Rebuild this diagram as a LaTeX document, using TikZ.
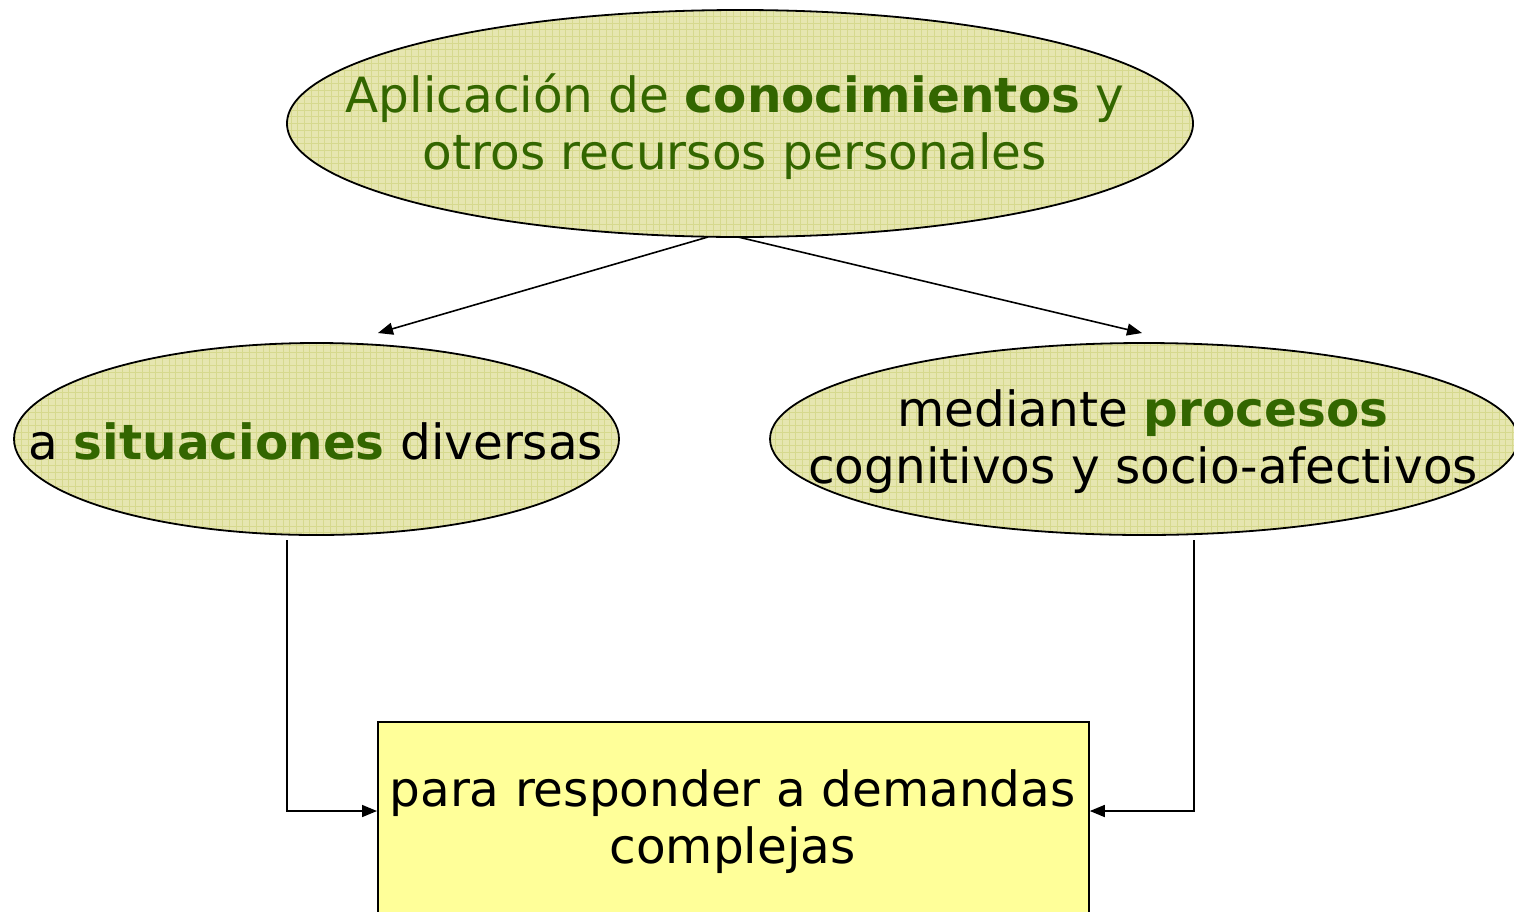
\documentclass[tikz,border=0pt]{standalone}
\usepackage{fontspec}
\setmainfont{DejaVu Sans}
\usetikzlibrary{shapes.geometric,arrows.meta}
\definecolor{txtgreen}{HTML}{336600}
\definecolor{ellfill}{HTML}{E6E6B0}
\definecolor{gridc}{HTML}{D6D98E}
\definecolor{boxfill}{HTML}{FFFF99}
\tikzset{
  ovalbox/.style={ellipse, draw=black, line width=1.8pt, fill=ellfill, inner sep=0pt,
    path picture={\draw[gridc, line width=0.8pt] (path picture bounding box.south west) grid[step=6.7pt] (path picture bounding box.north east);}},
  bigtext/.style={align=center, inner sep=0pt, font=\fontsize{48.5}{57}\selectfont},
  conn/.style={line width=1.6pt, -{Triangle[length=15pt,width=12pt]}},
}
\begin{document}
\begin{tikzpicture}[x=1pt,y=-1pt]
\useasboundingbox (0,0) rectangle (1514,911);
% ellipses
\node[ovalbox, minimum width=906pt, minimum height=227pt] (top) at (740,123.5) {};
\node[ovalbox, minimum width=605pt, minimum height=192pt] (left) at (316.5,439) {};
\node[ovalbox, minimum width=748pt, minimum height=192pt] (right) at (1144,439) {};
% box
\node[draw=black, line width=1.8pt, fill=boxfill, minimum width=711pt, minimum height=260pt, anchor=north west, inner sep=0pt] (box) at (377,721) {};
% texts
\node[bigtext, text=txtgreen] (toptext) at (735,127) {Aplicación de \textbf{conocimientos} y\\otros recursos personales};
\node[bigtext] (lefttext) at (316,441) {a \textcolor{txtgreen}{\textbf{situaciones}} diversas};
\node[bigtext] (righttext) at (1143,442) {mediante \textcolor{txtgreen}{\textbf{procesos}}\\cognitivos y socio-afectivos};
\node[bigtext] (boxtext) at (732.5,822) {para responder a demandas\\complejas};
% connectors
\coordinate (tl) at (708,237);
\coordinate (tr) at (738,237);
\coordinate (al) at (378,333);
\coordinate (ar) at (1142,333);
\draw[conn] (tl) -- (al);
\draw[conn] (tr) -- (ar);
\coordinate (ls) at (287,540);
\coordinate (rs) at (1194,540);
\draw[conn] (ls) |- (box.west |- 0,811);
\draw[conn] (rs) |- (box.east |- 0,811);
\end{tikzpicture}
\end{document}
